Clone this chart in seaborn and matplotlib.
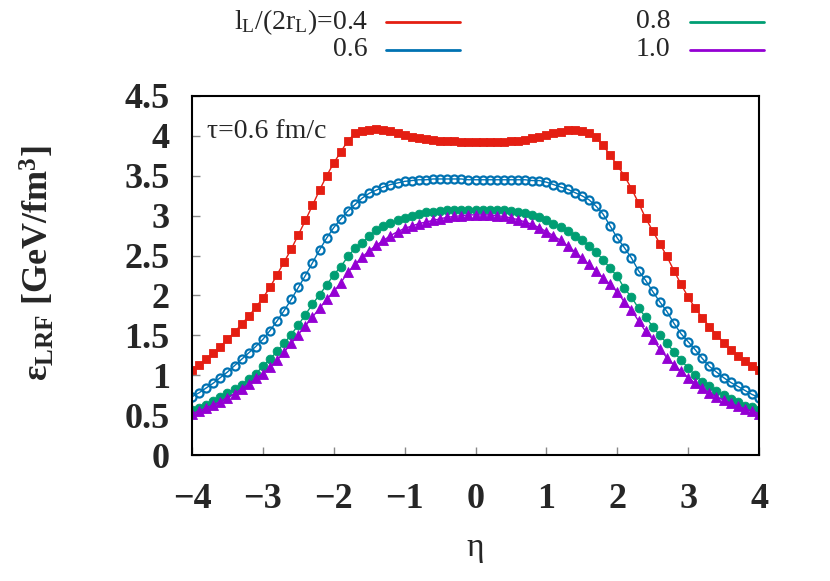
import numpy as np
import pandas as pd
import matplotlib
matplotlib.use("Agg")
import matplotlib.pyplot as plt
import seaborn as sns
from matplotlib.lines import Line2D

# ---------------- data ----------------
eta = [round(-4.0 + 0.1 * i, 1) for i in range(81)]

eps_04 = [1.07, 1.13, 1.20, 1.28, 1.36, 1.45, 1.54, 1.64, 1.74, 1.85,
          1.97, 2.10, 2.26, 2.42, 2.58, 2.76, 2.94, 3.13, 3.32, 3.50,
          3.66, 3.80, 3.94, 4.03, 4.06, 4.08, 4.09, 4.08, 4.06, 4.04,
          4.01, 3.99, 3.97, 3.96, 3.95, 3.94, 3.93, 3.93, 3.92, 3.92,
          3.92,
          3.92, 3.92, 3.92, 3.92, 3.93, 3.94, 3.95, 3.97, 3.99, 4.01,
          4.03, 4.05, 4.07, 4.08, 4.06, 4.04, 3.98, 3.88, 3.76, 3.63,
          3.50, 3.34, 3.16, 2.97, 2.81, 2.65, 2.49, 2.31, 2.14, 1.98,
          1.84, 1.72, 1.61, 1.51, 1.41, 1.32, 1.24, 1.18, 1.12, 1.06]

eps_06 = [0.73, 0.78, 0.84, 0.90, 0.97, 1.04, 1.12, 1.20, 1.28, 1.36,
          1.45, 1.56, 1.68, 1.81, 1.95, 2.10, 2.25, 2.41, 2.57, 2.72,
          2.85, 2.96, 3.06, 3.14, 3.22, 3.28, 3.32, 3.36, 3.39, 3.41,
          3.43, 3.44, 3.45, 3.45, 3.46, 3.46, 3.46, 3.46, 3.46, 3.45,
          3.45,
          3.45, 3.45, 3.45, 3.45, 3.45, 3.45, 3.45, 3.44, 3.44, 3.42,
          3.39, 3.36, 3.33, 3.29, 3.25, 3.20, 3.12, 3.02, 2.87, 2.72,
          2.60, 2.47, 2.31, 2.19, 2.05, 1.92, 1.80, 1.65, 1.52, 1.42,
          1.32, 1.21, 1.11, 1.04, 0.97, 0.91, 0.86, 0.81, 0.76, 0.72]

eps_08 = [0.56, 0.59, 0.63, 0.68, 0.73, 0.78, 0.83, 0.88, 0.95, 1.02,
          1.11, 1.20, 1.30, 1.40, 1.51, 1.63, 1.76, 1.89, 2.01, 2.13,
          2.26, 2.36, 2.49, 2.59, 2.66, 2.74, 2.82, 2.87, 2.91, 2.94,
          2.97, 3.00, 3.02, 3.04, 3.05, 3.06, 3.07, 3.07, 3.07, 3.07,
          3.07,
          3.07, 3.07, 3.07, 3.07, 3.06, 3.05, 3.03, 3.01, 2.98, 2.94,
          2.90, 2.86, 2.81, 2.75, 2.69, 2.62, 2.54, 2.45, 2.34, 2.24,
          2.09, 1.98, 1.84, 1.73, 1.61, 1.50, 1.40, 1.29, 1.19, 1.09,
          1.00, 0.92, 0.86, 0.80, 0.75, 0.70, 0.66, 0.62, 0.60, 0.57]

eps_10 = [0.52, 0.55, 0.59, 0.63, 0.67, 0.72, 0.77, 0.83, 0.89, 0.96,
          1.02, 1.10, 1.19, 1.29, 1.40, 1.51, 1.62, 1.73, 1.84, 1.95,
          2.05, 2.16, 2.29, 2.39, 2.48, 2.56, 2.63, 2.69, 2.75, 2.80,
          2.84, 2.87, 2.90, 2.92, 2.94, 2.96, 2.98, 2.99, 3.00, 3.01,
          3.01,
          3.01, 3.01, 3.00, 2.99, 2.97, 2.95, 2.92, 2.89, 2.85, 2.80,
          2.75, 2.69, 2.62, 2.55, 2.47, 2.39, 2.31, 2.22, 2.14, 2.04,
          1.92, 1.82, 1.68, 1.55, 1.45, 1.33, 1.22, 1.13, 1.05, 0.97,
          0.90, 0.84, 0.78, 0.73, 0.69, 0.65, 0.61, 0.58, 0.55, 0.52]

series_labels = ["l$_\\mathrm{L}$/(2r$_\\mathrm{L}$)=0.4", "0.6", "0.8", "1.0"]
x_ticks = [-4, -3, -2, -1, 0, 1, 2, 3, 4]
y_ticks = [0, 0.5, 1, 1.5, 2, 2.5, 3, 3.5, 4, 4.5]
y_tick_labels = ["0", "0.5", "1", "1.5", "2", "2.5", "3", "3.5", "4", "4.5"]
x_tick_labels = ["\u22124", "\u22123", "\u22122", "\u22121", "0", "1", "2", "3", "4"]

# ---------------- style ----------------
sns.set_style("ticks")
plt.rcParams["font.family"] = ["Liberation Serif", "DejaVu Serif"]
plt.rcParams["mathtext.fontset"] = "custom"
plt.rcParams["mathtext.rm"] = "Liberation Serif"
plt.rcParams["mathtext.it"] = "Liberation Serif:italic"
plt.rcParams["mathtext.bf"] = "Liberation Serif:bold"

W, H = 830, 581
fig = plt.figure(figsize=(W / 100, H / 100), dpi=100)
ax = fig.add_axes([192 / W, 1 - 455 / H, (759 - 192) / W, (455 - 96) / H])

colors = ["#e41e12", "#0072b2", "#009e73", "#9400d3"]
styles = [
    dict(marker="s", markersize=6.3, markerfacecolor=colors[0], markeredgecolor=colors[0], markeredgewidth=0.6),
    dict(marker="o", markersize=5.8, markerfacecolor="none", markeredgecolor=colors[1], markeredgewidth=1.6),
    dict(marker="o", markersize=6.3, markerfacecolor=colors[2], markeredgecolor=colors[2], markeredgewidth=0.6),
    dict(marker="^", markersize=7.0, markerfacecolor=colors[3], markeredgecolor=colors[3], markeredgewidth=0.6),
]

df = pd.DataFrame({
    "eta": eta * 4,
    "eps": eps_04 + eps_06 + eps_08 + eps_10,
    "set": sum([[lab] * len(eta) for lab in series_labels], []),
})

for lab, col, st in zip(series_labels, colors, styles):
    sub = df[df["set"] == lab]
    sns.lineplot(data=sub, x="eta", y="eps", color=col, linewidth=1.0,
                 ax=ax, legend=False, sort=False, **st)

ax.set_xlim(-4, 4)
ax.set_ylim(0, 4.5)
ax.set_xticks(x_ticks)
ax.set_xticklabels(x_tick_labels)
ax.set_yticks(y_ticks)
ax.set_yticklabels(y_tick_labels)
ax.tick_params(direction="in", length=6, width=1, color="#888888",
               labelsize=26, top=False, right=False)
ax.tick_params(axis="x", pad=20)
ax.tick_params(axis="y", pad=16)
for t in ax.get_xticklabels() + ax.get_yticklabels():
    t.set_fontweight("bold")
for s in ax.spines.values():
    s.set_linewidth(1.5)
    s.set_color("black")

ax.set_xlabel("\u03b7", fontsize=24, labelpad=12)
ax.set_ylabel("\u03b5$_{\\mathbf{LRF}}$ [GeV/fm$^{\\mathbf{3}}$]", fontsize=26,
              fontweight="bold")
ax.yaxis.set_label_coords(-0.238, 0.535)

ax.text(0.026, 0.90, "\u03c4=0.6 fm/c", transform=ax.transAxes, fontsize=20,
        ha="left", va="center")

# legend (gnuplot style: right-aligned text, line sample to the right)
leg_items = [
    (series_labels[0], colors[0], 368, 386, 460, 22),
    (series_labels[1], colors[1], 368, 386, 460, 50),
    (series_labels[2], colors[2], 670, 690, 764, 22),
    (series_labels[3], colors[3], 670, 690, 764, 50),
]
for lab, col, xt, x0, x1, yy in leg_items:
    fig.text(xt / W, 1 - yy / H, lab, ha="right", va="center", fontsize=20)
    fig.add_artist(Line2D([x0 / W, x1 / W], [1 - yy / H, 1 - yy / H],
                          transform=fig.transFigure, color=col, lw=2))

fig.savefig("out.png", dpi=100)
